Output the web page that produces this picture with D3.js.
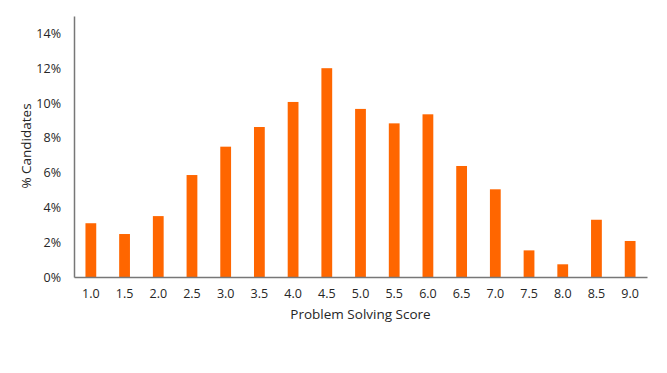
<!DOCTYPE html>
<html><head><meta charset="utf-8">
<script src="https://cdn.jsdelivr.net/npm/d3@7"></script>
<style>body{margin:0;background:#fff}svg{display:block}text{font-family:"Open Sans",sans-serif;fill:#262626}</style>
</head><body><svg id="c" width="667" height="373"></svg>
<script>
const categories = ["1.0","1.5","2.0","2.5","3.0","3.5","4.0","4.5","5.0","5.5","6.0","6.5","7.0","7.5","8.0","8.5","9.0"];
const values = [3.09,2.47,3.5,5.86,7.49,8.62,10.06,12.0,9.66,8.83,9.35,6.38,5.04,1.53,0.73,3.29,2.07];
const yTicks = [0,2,4,6,8,10,12,14];

const svg = d3.select("#c");
const m = {l:74, r:20, t:16, b:96};
const x = d3.scaleBand().domain(categories).range([m.l, 647]).paddingInner(0.68).paddingOuter(0.34);
const y = d3.scaleLinear().domain([0,15]).range([277, m.t]);

svg.selectAll("rect.bar").data(values).join("rect")
  .attr("class","bar")
  .attr("x",(d,i)=>x(categories[i]))
  .attr("width",x.bandwidth())
  .attr("y",d=>y(d))
  .attr("height",d=>y(0)-y(d))
  .attr("fill","#FF6600");

const yAxis = svg.append("g").attr("transform",`translate(${m.l},0)`)
  .call(d3.axisLeft(y).tickValues(yTicks).tickFormat(d=>d+"%").tickSize(0).tickPadding(13));
yAxis.select(".domain").attr("stroke","#777").attr("stroke-width",1.5);
yAxis.selectAll("text").style("font-size","12.5px").attr("fill","#262626");

const xAxis = svg.append("g").attr("transform",`translate(0,${y(0)})`)
  .call(d3.axisBottom(x).tickSize(0).tickPadding(12));
xAxis.select(".domain").attr("stroke","#777").attr("stroke-width",1.5);
xAxis.selectAll("text").style("font-size","12.5px").attr("fill","#262626");

svg.append("text").attr("x",(m.l+647)/2).attr("y",319).attr("text-anchor","middle")
  .style("font-size","13.5px").text("Problem Solving Score");
svg.append("text").attr("transform","translate(31,146) rotate(-90)").attr("text-anchor","middle")
  .style("font-size","13.5px").text("% Candidates");
</script></body></html>
